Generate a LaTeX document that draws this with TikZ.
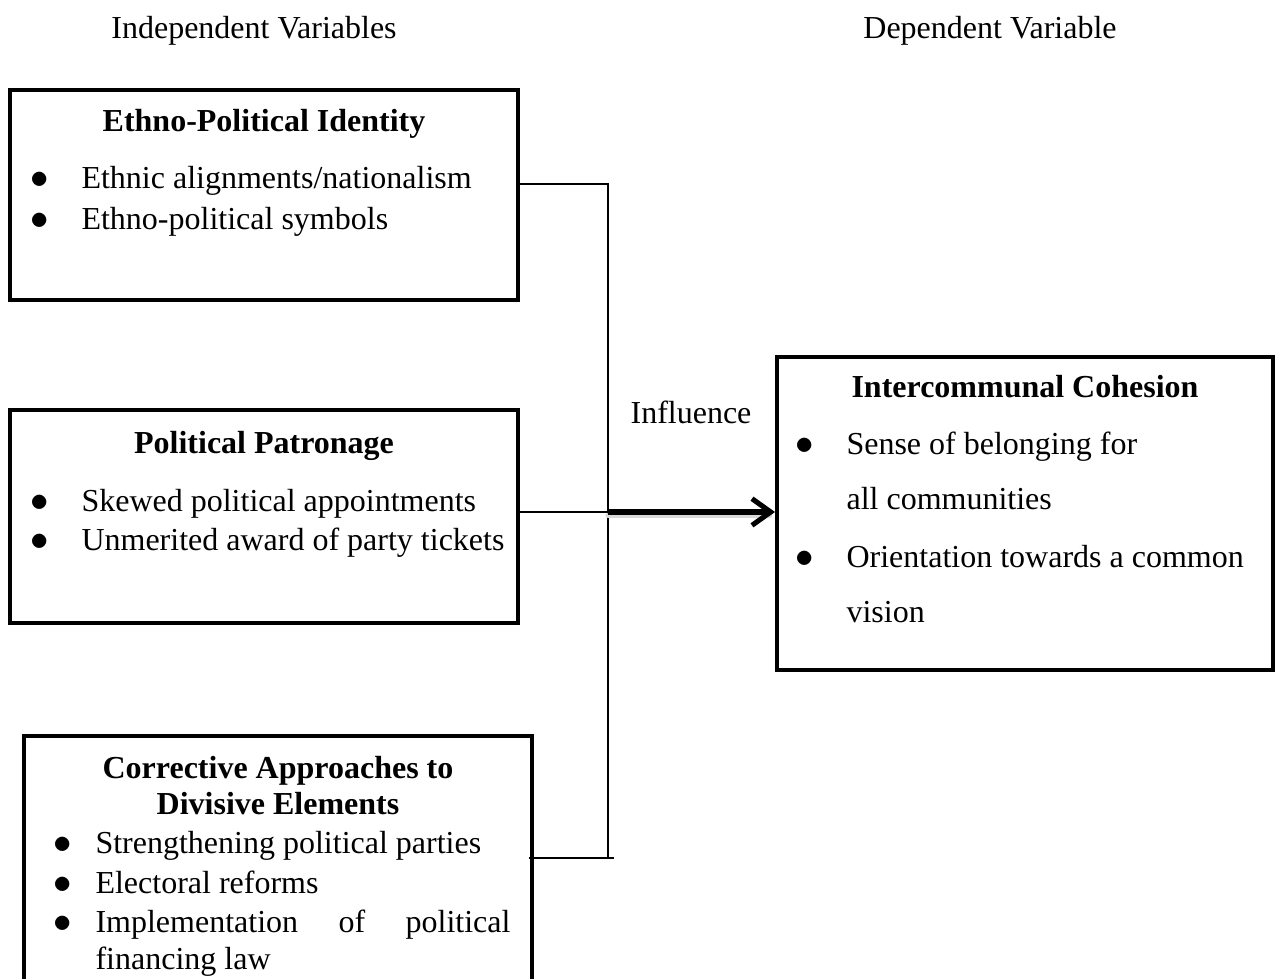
\documentclass[tikz,border=0pt]{standalone}
\usepackage{fontspec}
\setmainfont{Liberation Serif}
\usetikzlibrary{arrows.meta}
\tikzset{
  box/.style={draw, line width=1.5pt, rectangle, inner sep=0pt, fill=none},
  txt/.style={inner sep=0pt, font=\fontsize{12pt}{14pt}\selectfont, text height=0.7em, text depth=0.25em, yshift=-1.9pt},
  ttl/.style={txt, font=\fontsize{12pt}{14pt}\selectfont\bfseries, anchor=center},
  item/.style={txt, anchor=west},
  bul/.style={txt, anchor=center},
  thin/.style={draw, line width=0.6pt},
  bigarrow/.style={draw, line width=1.9pt, -{Straight Barb[length=7pt,width=10pt,line width=1.9pt]}}
}
\newcommand{\bigbul}{\scalebox{1.15}{$\bullet$}}
\begin{document}
\begin{tikzpicture}[x=0.375pt,y=-0.375pt]
\useasboundingbox (0,0) rectangle (1281,978);
\clip (0,0) rectangle (1281,978);
\fill[white] (0,0) rectangle (1281,978);

% headers
\node[txt, anchor=center] (hind) at (254,27) {Independent Variables};
\node[txt, anchor=center] (hdep) at (990,27) {Dependent Variable};

% boxes
\node[box, minimum width=508*0.375pt, minimum height=210*0.375pt] (b1) at (264,195) {};
\node[box, minimum width=508*0.375pt, minimum height=213*0.375pt] (b2) at (264,516.5) {};
\node[box, minimum width=496*0.375pt, minimum height=313*0.375pt] (b3) at (1025,513.5) {};
\node[box, minimum width=508*0.375pt, minimum height=264*0.375pt] (b4) at (278,868) {};

% box 1 text
\node[ttl] (t1) at (264,120) {Ethno-Political Identity};
\node[bul] (b1d1) at (40,177) {\bigbul};
\node[item] (b1i1) at (81,177) {Ethnic alignments/nationalism};
\node[bul] (b1d2) at (40,218) {\bigbul};
\node[item] (b1i2) at (81,218) {Ethno-political symbols};

% box 2 text
\node[ttl] (t2) at (264,442) {Political Patronage};
\node[bul] (b2d1) at (40,500) {\bigbul};
\node[item] (b2i1) at (81,500) {Skewed political appointments};
\node[bul] (b2d2) at (40,539) {\bigbul};
\node[item] (b2i2) at (81,539) {Unmerited award of party tickets};

% box 3 text
\node[ttl] (t3) at (1025,386) {Intercommunal Cohesion};
\node[bul] (b3d1) at (805,443) {\bigbul};
\node[item] (b3i1) at (846,443) {Sense of belonging for};
\node[item] (b3i1b) at (846,498) {all communities};
\node[bul] (b3d2) at (805,556) {\bigbul};
\node[item] (b3i2) at (846,556) {Orientation towards a common};
\node[item] (b3i2b) at (846,611) {vision};

% box 4 text
\node[ttl] (t4a) at (278,767) {Corrective Approaches to};
\node[ttl] (t4b) at (278,803) {Divisive Elements};
\node[bul] (b4d1) at (63,842) {\bigbul};
\node[item] (b4i1) at (95,842) {Strengthening political parties};
\node[bul] (b4d2) at (63,882) {\bigbul};
\node[item] (b4i2) at (95,882) {Electoral reforms};
\node[bul] (b4d3) at (63,921) {\bigbul};
\node[item] (b4i3) at (95,921) {\makebox[155.6pt][s]{Implementation\hfill of\hfill political}};
\node[item] (b4i3b) at (95,958) {financing law};

% junction coordinates
\coordinate (j1) at (608,184);
\coordinate (j2) at (608,512);
\coordinate (j3) at (608,858);
\coordinate (j3e) at (614,858);

% connectors
\draw[thin] (b1.east |- j1) -- (j1) -- (j3);
\draw[thin] (b2.east |- j2) -- (j2);
\draw[thin] ([xshift=-2pt]b4.east |- j3) -- (j3e);
\draw[black!15, line width=1.9pt, line cap=round] ([yshift=-1.2pt]j2) -- ([xshift=-2pt,yshift=-1.2pt]b3.west |- j2);
\draw[bigarrow] (j2) -- (b3.west |- j2);

\node[txt, anchor=center] (infl) at (691,412) {Influence};
\end{tikzpicture}
\end{document}
